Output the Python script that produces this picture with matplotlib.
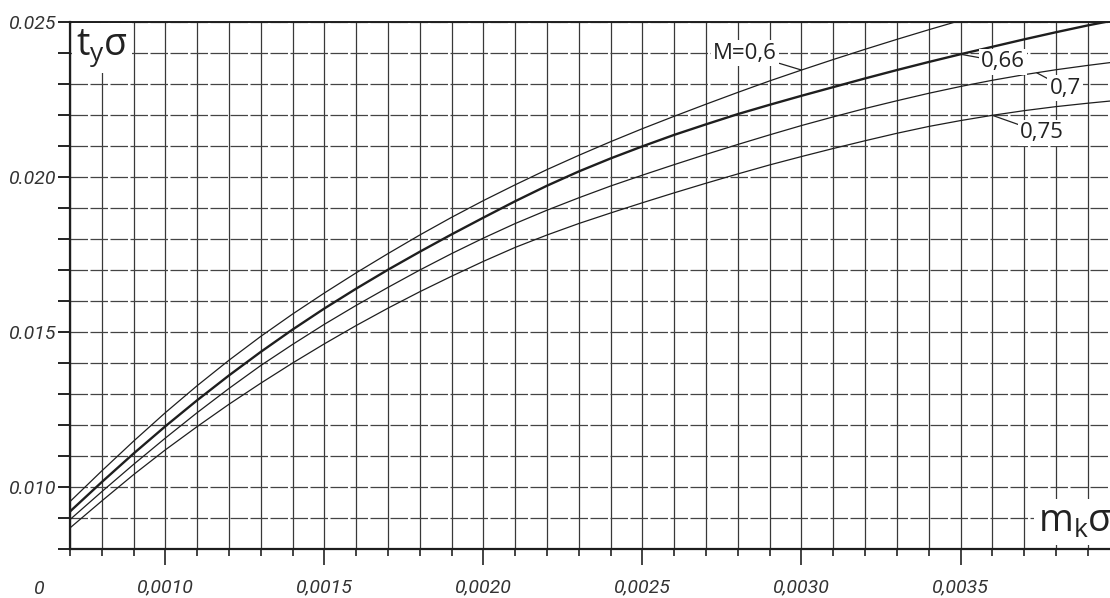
import numpy as np
import matplotlib
matplotlib.use("Agg")
import matplotlib.pyplot as plt
from matplotlib.ticker import MultipleLocator

# ---- данные номограммы ----
mk = [0.0007, 0.0008, 0.0009, 0.0010, 0.0011, 0.0012, 0.0013, 0.0014, 0.0015,
      0.0016, 0.0017, 0.0018, 0.0019, 0.0020, 0.0021, 0.0022, 0.0023, 0.0024,
      0.0025, 0.0026, 0.0027, 0.0028, 0.0029, 0.0030, 0.0031, 0.0032, 0.0033,
      0.0034, 0.0035, 0.0036, 0.0037, 0.0038, 0.0039, 0.00397]
mk_06 = mk[:30]

ty_06 = [0.00953, 0.01052, 0.01148, 0.0124, 0.01327, 0.01409, 0.01486, 0.01558,
         0.01626, 0.01691, 0.01753, 0.01813, 0.0187, 0.01924, 0.01975, 0.02024,
         0.0207, 0.02114, 0.02156, 0.02196, 0.02235, 0.02273, 0.0231, 0.02345,
         0.02379, 0.02412, 0.02444, 0.02475, 0.02505, 0.02534]
ty_066 = [0.00921, 0.01016, 0.01108, 0.01196, 0.0128, 0.0136, 0.01436, 0.01508,
          0.01576, 0.0164, 0.01701, 0.01759, 0.01815, 0.01869, 0.01922, 0.01972,
          0.02018, 0.0206, 0.02099, 0.02136, 0.0217, 0.02203, 0.02233, 0.02262,
          0.0229, 0.02318, 0.02345, 0.02371, 0.02396, 0.0242, 0.02444, 0.02467,
          0.02489, 0.02503]
ty_07 = [0.00895, 0.00985, 0.01073, 0.01158, 0.0124, 0.01318, 0.01392, 0.0146,
         0.01525, 0.01586, 0.01644, 0.017, 0.01753, 0.01803, 0.0185, 0.01893,
         0.01933, 0.01971, 0.02006, 0.0204, 0.02073, 0.02105, 0.02136, 0.02166,
         0.02194, 0.02221, 0.02246, 0.0227, 0.02292, 0.02312, 0.0233, 0.02346,
         0.0236, 0.02369]
ty_075 = [0.00868, 0.00955, 0.0104, 0.0112, 0.01195, 0.01267, 0.01335, 0.014,
          0.01462, 0.01521, 0.01577, 0.0163, 0.0168, 0.01728, 0.01773, 0.01813,
          0.0185, 0.01884, 0.01917, 0.01949, 0.0198, 0.0201, 0.02039, 0.02066,
          0.02092, 0.02117, 0.02141, 0.02163, 0.02182, 0.02199, 0.02214, 0.02227,
          0.02238, 0.02245]

x_ticks = [0.0010, 0.0015, 0.0020, 0.0025, 0.0030, 0.0035]
x_labels = ["0,0010", "0,0015", "0,0020", "0,0025", "0,0030", "0,0035"]
y_ticks = [0.010, 0.015, 0.020, 0.025]
y_labels = ["0.010", "0.015", "0.020", "0.025"]

# подписи кривых: текст, точка на кривой, положение текста
curve_labels = [
    ("M=0,6", (0.0030, 0.02345), (0.002823, 0.02400)),
    ("0,66", (0.0035, 0.02396), (0.003634, 0.02371)),
    ("0,7", (0.00374, 0.02336), (0.003829, 0.02287)),
    ("0,75", (0.0036, 0.02199), (0.003757, 0.02142)),
]

tick_font = dict(family=["Roboto", "DejaVu Sans"], style="italic",
                 size=14, color="#333333")
label_font = ["Open Sans", "DejaVu Sans"]
plt.rcParams["mathtext.fontset"] = "custom"
plt.rcParams["mathtext.rm"] = "Open Sans"

fig = plt.figure(figsize=(11.1, 5.98), dpi=100)
ax = fig.add_axes([70 / 1110, 49 / 598, 1040 / 1110, 527 / 598])
ax.set_xlim(0.0007, 0.00397)
ax.set_ylim(0.008, 0.025)

# сетка
ax.xaxis.set_minor_locator(MultipleLocator(0.0001))
ax.yaxis.set_minor_locator(MultipleLocator(0.001))
ax.grid(axis="x", which="both", color="#383838", lw=0.9, ls="-")
ax.grid(axis="y", which="both", color="#444444", lw=0.9, ls=(0, (14, 2)))
ax.set_axisbelow(True)

# кривые
line_color = "#1e1e1e"
ax.plot(mk_06, ty_06, color=line_color, lw=0.9)
ax.plot(mk, ty_066, color=line_color, lw=1.7)
ax.plot(mk, ty_07, color=line_color, lw=0.9)
ax.plot(mk, ty_075, color=line_color, lw=0.9)

for text, pt, txt in curve_labels:
    ax.annotate(text, xy=pt, xytext=txt, ha="center", va="center",
                family=label_font, fontsize=16, color="#222222",
                bbox=dict(boxstyle="square,pad=0.1", fc="white", ec="none"),
                arrowprops=dict(arrowstyle="-", color="#222222", lw=0.9,
                                shrinkA=0, shrinkB=0))

# оси
ax.set_xticks(x_ticks)
ax.set_xticklabels(x_labels, **tick_font)
ax.set_yticks(y_ticks)
ax.set_yticklabels(y_labels, **tick_font)
ax.tick_params(axis="x", which="major", direction="out", length=11.5,
               width=1.2, pad=10, color="#222222")
ax.tick_params(axis="x", which="minor", direction="out", length=5,
               width=1.2, color="#222222")
ax.tick_params(axis="y", which="both", direction="out", length=8.5,
               width=1.4, pad=1.5, color="#222222")

for side in ["left", "bottom"]:
    ax.spines[side].set_linewidth(1.6)
    ax.spines[side].set_color("#1e1e1e")
ax.spines["top"].set_linewidth(1.4)
ax.spines["top"].set_color("#1e1e1e")
ax.spines["right"].set_visible(False)

ax.annotate("0", xy=(0.0007, 0.008), xytext=(-22, -28.5),
            textcoords="offset points", ha="center", va="center", **tick_font)

ax.text(0.006, 0.951, "t$\\mathregular{_y}$σ", transform=ax.transAxes,
        family=label_font, fontsize=27, color="#222222", ha="left", va="center",
        bbox=dict(boxstyle="square,pad=0.1", fc="white", ec="none"))
ax.text(0.931, 0.032, "m$\\mathregular{_k}$σ", transform=ax.transAxes,
        family=label_font, fontsize=27, color="#222222", ha="left",
        va="baseline",
        bbox=dict(boxstyle="square,pad=0.1", fc="white", ec="none"))

fig.savefig("out.png", dpi=100)
